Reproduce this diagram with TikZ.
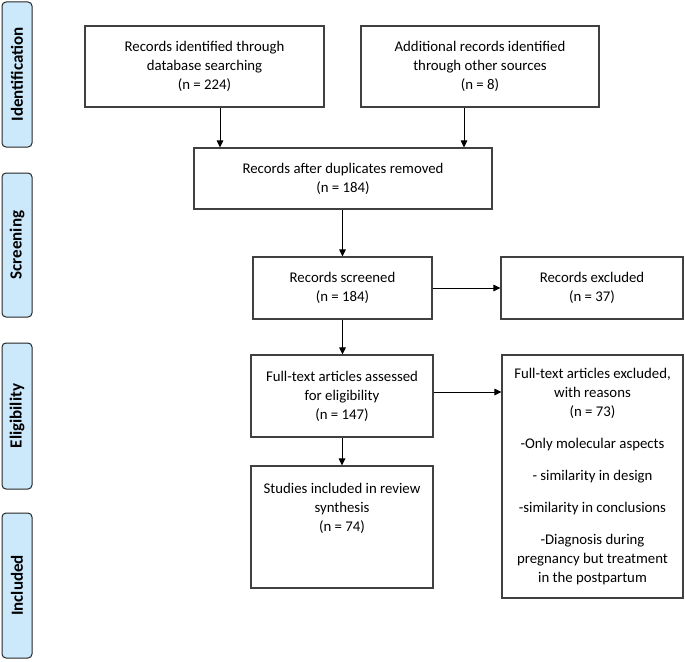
\documentclass[tikz,border=0pt]{standalone}
\usepackage{fontspec}
\setmainfont{Carlito}
\usetikzlibrary{arrows.meta}
\definecolor{sidefill}{RGB}{204,233,252}
\definecolor{boxline}{RGB}{64,64,64}
\begin{document}
\begin{tikzpicture}[x=1pt,y=-1pt,
  box/.style={draw=boxline, line width=1.1pt, align=center, font=\fontsize{14.8}{19}\selectfont, inner sep=0pt},
  side/.style={draw=black!85, fill=sidefill, rounded corners=4pt, line width=1pt, minimum height=30pt, font=\bfseries\fontsize{17}{19}\selectfont, rotate=90, inner sep=0pt},
  arr/.style={-{Triangle[length=7pt,width=6.5pt]}, line width=1pt, black}]
\useasboundingbox (0,0) rectangle (685,661);
% phase labels
\node[side, minimum width=145pt] (sid) at (17,74.5) {Identification};
\node[side, minimum width=144pt] (sscr) at (17,245) {Screening};
\node[side, minimum width=146pt] (selig) at (17,416) {Eligibility};
\node[side, minimum width=145pt] (sinc) at (17,585.5) {Included};
% boxes
\node[box, minimum width=239pt, minimum height=81pt] (b1) at (204.5,66.5) {Records identified through\\ database searching\\ (n = 224)};
\node[box, minimum width=238pt, minimum height=81pt] (b2) at (480,66.5) {Additional records identified\\ through other sources\\ (n = 8)};
\node[box, minimum width=298pt, minimum height=61pt] (b3) at (343,178.5) {Records after duplicates removed\\ (n = 184)};
\node[box, minimum width=179pt, minimum height=62pt] (b4) at (342.5,288) {Records screened\\ (n = 184)};
\node[box, minimum width=182pt, minimum height=62pt] (b5) at (592,288) {Records excluded\\ (n = 37)};
\node[box, minimum width=182pt, minimum height=82pt] (b6) at (342,396) {Full-text articles assessed\\ for eligibility\\ (n = 147)};
\node[box, minimum width=181pt, minimum height=243pt] (b7) at (592.5,476.5) {Full-text articles excluded,\\ with reasons\\ (n = 73)\\[13pt] -Only molecular aspects\\[13pt] - similarity in design\\[13pt] -similarity in conclusions\\[13pt] -Diagnosis during\\ pregnancy but treatment\\ in the postpartum};
\node[box, minimum width=182pt, minimum height=122pt] (b8) at (342,527) {Studies included in review\\ synthesis\\ (n = 74)\\[21pt]\mbox{}};
% connectors
\draw[arr] ([xshift=15.5pt]b1.south) -- ([xshift=15.5pt]b1.south |- b3.north);
\draw[arr] ([xshift=-16pt]b2.south) -- ([xshift=-16pt]b2.south |- b3.north);
\draw[arr] (b3.south -| b4.north) -- (b4.north);
\draw[arr] (b4.east) -- (b5.west);
\draw[arr] (b4.south) -- (b4.south |- b6.north);
\draw[arr] ([yshift=4pt]b6.east) -- ([yshift=4pt]b6.east -| b7.west);
\draw[arr] (b6.south) -- (b6.south |- b8.north);
\end{tikzpicture}
\end{document}
